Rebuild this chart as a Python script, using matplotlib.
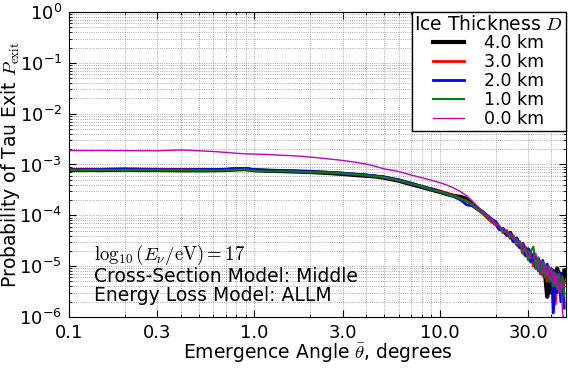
import numpy as np
import matplotlib
matplotlib.use('Agg')
import matplotlib.pyplot as plt
from matplotlib.ticker import FixedLocator, FuncFormatter, LogLocator, NullFormatter

plt.rcParams['mathtext.fontset'] = 'cm'
plt.rcParams['font.family'] = 'DejaVu Sans'

# emergence angle, degrees
angle = [0.1, 0.15, 0.2, 0.25, 0.3, 0.4, 0.5, 0.6, 0.7, 0.8, 0.9, 1.0, 1.2, 1.4, 1.6, 1.8,
         2.0, 2.5, 3.0, 3.5, 4.0, 4.5, 5.0, 6.0, 7.0, 8.0, 9.0, 10, 11, 12, 13, 14, 15, 16,
         17, 18, 19, 20, 21, 22, 23, 24, 25, 26, 27, 28, 29, 30, 31, 32, 33, 34, 35, 36, 37,
         38, 39, 40, 41, 42, 43, 44, 45, 46, 47]

# exit probabilities, in units of 1e-4
p_4km = [7.8, 7.8, 7.9, 7.8, 7.8, 7.7, 7.7, 7.7, 7.8, 8.0, 8.1, 7.7, 7.5, 7.4, 7.3, 7.2,
         7.1, 6.8, 6.5, 6.2, 6.0, 5.8, 5.5, 4.8, 4.1, 3.6, 3.2, 2.9, 2.6, 2.4, 2.3, 2.1, 1.6, 1.35,
         1.15, 0.95, 0.8, 0.72, 0.55, 0.52, 0.42, 0.45, 0.32, 0.34, 0.24, 0.27, 0.17, 0.21, 0.13, 0.16, 0.1, 0.13, 0.08, 0.11, 0.07,
         0.025, 0.06, 0.03, 0.08, 0.05, 0.09, 0.04, 0.07, 0.035, 0.08]
p_3km = [7.9, 8.0, 8.2, 8.1, 8.0, 7.9, 7.8, 7.8, 7.9, 8.2, 8.2, 7.8, 7.6, 7.6, 7.5, 7.3,
         7.1, 7.0, 6.8, 6.4, 6.2, 5.9, 5.6, 4.9, 4.2, 3.7, 3.3, 3.0, 2.7, 2.4, 2.1, 1.9, 1.6, 1.3,
         1.1, 0.9, 0.75, 0.65, 0.6, 0.45, 0.5, 0.35, 0.38, 0.26, 0.3, 0.18, 0.24, 0.14, 0.19, 0.1, 0.14, 0.08, 0.12, 0.065, 0.1,
         0.05, 0.085, 0.045, 0.07, 0.018, 0.06, 0.035, 0.065, 0.03, 0.05]
p_2km = [7.8, 7.9, 8.0, 7.9, 7.9, 7.8, 7.9, 7.9, 8.0, 8.4, 8.3, 7.9, 7.7, 7.6, 7.4, 7.3,
         7.2, 7.0, 6.7, 6.5, 6.2, 5.9, 5.7, 5.0, 4.3, 3.7, 3.3, 2.9, 2.6, 2.3, 2.0, 1.6, 1.55, 1.35,
         1.15, 1.0, 0.85, 0.75, 0.52, 0.55, 0.4, 0.44, 0.3, 0.36, 0.23, 0.28, 0.16, 0.22, 0.12, 0.17, 0.09, 0.14, 0.07, 0.13, 0.06,
         0.11, 0.05, 0.09, 0.012, 0.07, 0.03, 0.08, 0.02, 0.06, 0.015]
p_1km = [7.7, 7.8, 7.8, 7.8, 7.7, 7.7, 7.7, 7.6, 7.7, 7.9, 8.0, 7.5, 7.3, 7.3, 7.3, 7.2,
         7.1, 6.9, 6.7, 6.4, 6.1, 5.9, 5.6, 4.9, 4.2, 3.7, 3.2, 2.9, 2.6, 2.3, 2.1, 1.9, 1.6, 1.3,
         1.1, 0.95, 0.8, 0.68, 0.6, 0.47, 0.48, 0.36, 0.4, 0.27, 0.31, 0.19, 0.23, 0.13, 0.2, 0.24, 0.09, 0.15, 0.07, 0.12, 0.06,
         0.1, 0.05, 0.09, 0.04, 0.075, 0.035, 0.07, 0.03, 0.06, 0.025]
p_0km = [18.8, 18.8, 18.7, 18.6, 18.6, 19.3, 18.6, 18.0, 17.3, 16.6, 16.2, 16.0, 15.7, 15.2, 14.9, 14.5,
         14.0, 12.9, 12.0, 11.1, 10.2, 9.2, 8.2, 7.3, 6.2, 5.5, 4.9, 4.4, 3.9, 3.4, 2.9, 2.4, 1.9, 1.5,
         1.2, 1.0, 0.85, 0.7, 0.58, 0.55, 0.43, 0.45, 0.33, 0.35, 0.25, 0.28, 0.18, 0.2, 0.14, 0.15, 0.18, 0.09, 0.13, 0.07, 0.11,
         0.06, 0.1, 0.05, 0.08, 0.04, 0.07, 0.03, 0.05, 0.012, 0.008]

labels = ['4.0 km', '3.0 km', '2.0 km', '1.0 km', '0.0 km']
colors = ['k', 'r', 'b', 'g', 'm']
widths = [3, 2, 2, 1.5, 1]

xticks = [0.1, 0.3, 1.0, 3.0, 10.0, 30.0]
xticklabels = ['0.1', '0.3', '1.0', '3.0', '10.0', '30.0']

fig = plt.figure(figsize=(5.68, 3.69), dpi=100)
ax = fig.add_axes([0.1215, 0.141, 0.875, 0.8265])

series = [p_4km, p_3km, p_2km, p_1km, p_0km]
for vals, lab, col, lw in zip(series, labels, colors, widths):
    ax.plot(angle, np.array(vals) * 1e-4, color=col, lw=lw, label=lab)

ax.set_xscale('log')
ax.set_yscale('log')
ax.set_xlim(0.1, 48)
ax.set_ylim(1e-6, 1)

ax.xaxis.set_major_locator(FixedLocator(xticks))
ax.set_xticklabels(xticklabels)
ax.xaxis.set_minor_formatter(NullFormatter())
ax.yaxis.set_major_locator(LogLocator(base=10, numticks=10))
ax.yaxis.set_major_formatter(FuncFormatter(lambda v, p: r'$\mathregular{10^{%d}}$' % round(np.log10(v))))

ax.tick_params(which='both', direction='in', top=True, right=True, labelsize=13)
ax.tick_params(which='major', length=5, pad=5)
ax.tick_params(which='minor', length=2.5)
ax.grid(True, which='both', linestyle=':', color='0.55', lw=0.6)

ax.set_xlabel(r'Emergence Angle $\bar{\theta}$, degrees', fontsize=13.5, labelpad=-1)
ax.set_ylabel(r'Probability of Tau Exit $P_\mathrm{exit}$', fontsize=13.5, va='center')
ax.yaxis.set_label_coords(-0.117, 0.5)

leg = ax.legend(loc='upper right', title=r'Ice Thickness $D$', fontsize=12.5,
                borderaxespad=0, labelspacing=0.05, handlelength=1.75, handletextpad=1.2,
                fancybox=False, framealpha=1, edgecolor='k', borderpad=0.15)
leg.get_title().set_fontsize(13.5)
leg.get_frame().set_linewidth(1.0)

ax.text(0.05, 0.04, '$\\log_{10}(E_\\nu/\\mathrm{eV})=17$\nCross-Section Model: Middle\nEnergy Loss Model: ALLM',
        transform=ax.transAxes, fontsize=13.5, ha='left', va='bottom', linespacing=1.0)

fig.savefig('out.png', dpi=100)
